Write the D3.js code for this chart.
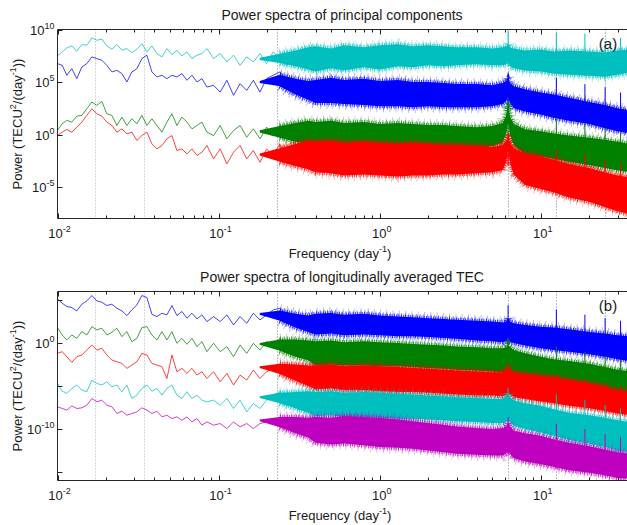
<!DOCTYPE html>
<html>
<head>
<meta charset="utf-8">
<style>
body { margin: 0; background: #fff; }
text { font-family: Arial, "Liberation Sans", sans-serif; fill: #1a1a1a; }
.frame { fill: none; stroke: #262626; stroke-width: 1; }
</style>
</head>
<body>
<svg width="627" height="525"></svg>

<script src="https://cdn.jsdelivr.net/npm/d3@7/dist/d3.min.js"></script>

<script>
// ---- data (power given as log10 exponents) ----

// low-frequency part: single visible traces
var traceFreq = [0.01000, 0.01069, 0.01143, 0.01227, 0.01318, 0.01416, 0.01521, 0.01634, 0.01755, 0.01885,
  0.02025, 0.02176, 0.02337, 0.02510, 0.02696, 0.02896, 0.03111, 0.03341, 0.03589, 0.03855,
  0.04141, 0.04448, 0.04778, 0.05133, 0.05513, 0.05922, 0.06361, 0.06833, 0.07340, 0.07884,
  0.08468, 0.09311, 0.1023, 0.1126, 0.1238, 0.1360, 0.1495, 0.1644, 0.1807, 0.1986,
  0.2183, 0.2400, 0.2638, 0.2900, 0.3188, 0.3504, 0.3852, 0.4234];

// high-frequency part: dense noise band, upper / lower envelope
var bandFreq = [0.18, 0.24, 0.3, 0.36, 0.4, 0.5, 0.6, 0.8, 1, 1.3, 1.6, 2, 2.5, 3, 4, 5,
  5.8, 6.1, 6.27, 6.45, 6.8, 8, 10, 12, 15, 20, 25, 30, 36];

// narrow harmonic lines
var spikeFreq = [6.27, 12.5, 18.8, 25.1, 31.3];

// dotted reference frequencies
var markFreq = [0.0171, 0.0342, 0.232, 6.27, 12.5, 25.1];

var xMajor = [0.01, 0.1, 1, 10];
var xMajorExp = ["-2", "-1", "0", "1"];
var xMinor = [0.02, 0.03, 0.04, 0.05, 0.06, 0.07, 0.08, 0.09, 0.2, 0.3, 0.4, 0.5, 0.6, 0.7, 0.8, 0.9,
  2, 3, 4, 5, 6, 7, 8, 9, 20, 30, 40, 50];

// panel (a): principal components
var aYTicks = [1e-5, 1e0, 1e5, 1e10];
var aYExp = ["-5", "0", "5", "10"];

var aCyanTrace = [7.48, 7.87, 8.25, 8.44, 7.93, 8.57, 8.50, 9.20, 8.98, 9.08, 8.44, 8.12, 8.57, 8.03, 8.18, 7.80,
  8.12, 8.66, 7.87, 8.44, 7.71, 7.39, 8.18, 7.61, 8.03, 7.48, 7.87, 7.23, 7.55, 7.71, 8.18,
  7.23, 7.71, 6.91, 7.55, 6.59, 7.39, 6.91, 7.71, 6.75, 7.87, 7.23, 6.59, 7.39, 6.75, 7.23, 6.43, 7.07];
var aBlueTrace = [6.75, 6.59, 5.64, 6.27, 5.32, 6.43, 6.75, 7.39, 7.23, 7.07, 6.59, 5.96, 6.11, 5.80, 5.00, 5.96,
  6.27, 7.23, 7.55, 5.96, 5.48, 5.64, 5.32, 5.64, 5.48, 5.80, 5.16, 5.64, 5.00, 5.32, 4.52,
  4.68, 4.04, 5.16, 3.73, 4.84, 4.20, 5.16, 4.04, 5.32, 5.64, 5.96, 5.16, 4.52, 4.84, 3.73, 4.04, 3.41];
var aGreenTrace = [0.38, 1.02, 1.34, 1.18, 1.75, 1.82, 2.45, 3.09, 2.77, 3.15, 1.97, 1.82, 0.86, 1.66, 0.86, 1.50,
  1.02, 1.82, 0.86, 1.50, 0.86, 0.22, 1.18, 1.97, 0.86, 1.66, 1.18, 0.54, 0.86, 1.18, 0.22,
  -0.10, 0.86, -0.41, 0.38, 0.86, -0.25, 0.54, -0.41, 0.70, -0.10, 0.86, -0.41, 0.54, -0.25, 0.70, -0.10, 0.38];
var aRedTrace = [-0.10, 0.22, 0.48, 0.22, 0.70, 1.18, 1.82, 2.45, 1.97, 1.75, 1.18, 0.86, 0.22, 0.54, 0.06, 0.22,
  -0.57, -0.10, 0.22, -0.89, -1.37, -1.05, -0.41, -0.10, -1.53, -1.37, -1.85, -1.37, -2.00, -1.69, -1.05,
  -2.32, -1.37, -2.80, -1.69, -1.05, -2.32, -1.53, -2.64, -1.37, -2.00, -0.89, -2.32, -1.69, -2.96, -1.53, -2.48, -1.85];

var aCyanHi = [7.3, 7.7, 8.0, 8.3, 8.4, 8.2, 8.5, 8.3, 8.5, 8.6, 8.4, 8.5, 8.4, 8.3, 8.3, 8.2,
  8.3, 8.4, 8.6, 8.3, 8.2, 8.0, 8.1, 7.9, 8.0, 7.9, 7.8, 8.0, 8.1];
var aCyanLo = [7.1, 6.8, 6.5, 6.2, 6.0, 6.3, 6.1, 6.4, 6.2, 6.5, 6.4, 6.6, 6.5, 6.6, 6.7, 6.6,
  6.6, 6.7, 7.0, 6.5, 6.3, 6.1, 6.0, 5.8, 5.7, 5.6, 5.5, 5.7, 5.9];
var aBlueHi = [5.1, 5.7, 5.3, 5.1, 5.2, 5.4, 5.2, 5.3, 5.1, 5.2, 5.0, 5.0, 4.9, 4.8, 4.8, 4.7,
  4.9, 5.1, 5.4, 4.9, 4.6, 4.3, 4.0, 3.8, 3.5, 3.1, 2.8, 2.5, 2.3];
var aBlueLo = [4.9, 4.6, 3.8, 3.3, 3.0, 3.0, 2.9, 2.8, 2.7, 2.7, 2.6, 2.7, 2.6, 2.6, 2.6, 2.7,
  2.9, 3.2, 3.6, 3.0, 2.5, 2.2, 1.9, 1.6, 1.3, 1.0, 0.6, 0.3, 0.1];
var aGreenHi = [0.4, 0.8, 1.1, 1.3, 1.2, 1.3, 1.1, 1.2, 1.0, 1.1, 1.0, 0.9, 0.9, 0.8, 0.7, 0.8,
  1.1, 1.8, 3.0, 1.7, 1.0, 0.5, 0.3, 0.1, -0.1, -0.3, -0.5, -0.7, -0.9];
var aGreenLo = [0.2, -0.3, -0.7, -0.9, -1.0, -1.0, -1.1, -1.1, -1.2, -1.2, -1.2, -1.2, -1.3, -1.3, -1.3, -1.1,
  -0.8, 0.1, 1.2, -0.1, -1.0, -1.9, -2.1, -2.3, -2.6, -2.9, -3.2, -3.4, -3.6];
var aRedHi = [-1.8, -1.3, -0.9, -0.6, -0.7, -0.6, -0.8, -0.7, -0.8, -0.9, -0.8, -0.9, -1.0, -1.0, -1.1, -1.2,
  -1.0, -0.6, -0.2, -0.7, -1.3, -1.8, -2.1, -2.4, -2.8, -3.2, -3.6, -3.9, -4.1];
var aRedLo = [-2.0, -2.6, -3.0, -3.3, -3.6, -3.7, -3.9, -3.8, -3.9, -4.0, -3.9, -3.9, -3.8, -3.8, -3.7, -3.6,
  -3.4, -2.6, -1.5, -2.7, -3.8, -4.8, -5.2, -5.5, -6.0, -6.4, -6.9, -7.3, -7.6];

var aCyanSpikeTop = [9.9, 9.7, 9.6, 8.9, 9.2], aCyanSpikeBase = [6.6, 5.8, 5.6, 5.5, 5.7];
var aBlueSpikeTop = [5.9, 5.4, 4.8, 4.5, 4.0], aBlueSpikeBase = [2.6, 1.7, 1.1, 0.7, 0.3];
var aGreenSpikeTop = [3.2, 1.5, 1.0, 0.6, 0.3], aGreenSpikeBase = [1.0, -2.4, -2.9, -3.3, -3.5];
var aRedSpikeTop = [-0.1, -1.4, -1.9, -2.4, -2.7], aRedSpikeBase = [-3.0, -5.6, -6.3, -6.9, -7.3];

// panel (b): longitudinally averaged TEC
var bYTicks = [1e-15, 1e-10, 1e-5, 1e0, 1e5];
var bYLabelTicks = [1e-10, 1e0];
var bYExp = ["-10", "0"];

var bBlueTrace = [5.14, 4.64, 4.25, 4.13, 3.74, 4.52, 4.91, 5.53, 4.91, 4.75, 4.37, 4.52, 4.05, 3.74, 3.20, 3.86,
  4.44, 5.53, 5.30, 3.35, 3.08, 3.47, 3.28, 4.37, 3.20, 3.67, 2.89, 3.47, 2.81, 3.28, 2.50,
  3.08, 2.50, 3.28, 2.11, 3.08, 2.30, 3.47, 2.69, 3.28, 3.86, 4.05, 3.28, 2.89, 1.72, 2.30, 1.53, 2.11];
var bGreenTrace = [1.80, 0.94, 0.36, 0.94, 0.55, 1.33, 0.94, 1.91, 1.53, 1.72, 0.94, 1.25, 1.72, 0.75, 1.33, 0.16,
  0.55, 1.80, 1.91, 0.94, 0.36, 1.33, 0.36, 1.33, -0.03, 0.55, -0.15, 0.55, -0.42, 0.16, -1.00,
  -0.03, -1.00, -0.42, -1.59, -0.23, -1.20, -0.03, -0.81, 0.16, -0.23, 0.55, -0.61, -0.03, -1.20, -0.61, -1.59, -0.81];
var bRedTrace = [-1.20, -1.00, -1.59, -2.25, -1.59, -1.39, -0.81, -0.23, -0.81, -0.61, -1.39, -1.98, -2.17, -2.37, -2.95, -2.56,
  -2.17, -1.20, -1.39, -2.37, -2.56, -2.75, -4.12, -1.39, -3.34, -2.95, -3.53, -2.95, -3.73, -3.34, -4.12,
  -3.34, -4.51, -3.53, -4.89, -3.73, -4.31, -3.14, -4.12, -3.34, -2.95, -2.56, -3.53, -4.12, -3.73, -4.89, -3.92, -4.51];
var bCyanTrace = [-4.70, -5.60, -5.87, -5.28, -4.89, -5.48, -5.67, -4.31, -4.70, -4.89, -4.51, -5.09, -4.89, -5.67, -4.89, -6.45,
  -6.06, -5.28, -4.89, -5.60, -5.28, -6.06, -5.28, -4.89, -6.06, -6.45, -5.67, -6.45, -6.06, -6.65, -6.84,
  -6.65, -7.23, -6.45, -7.62, -6.65, -8.01, -7.03, -7.62, -6.65, -6.06, -5.67, -6.65, -7.23, -7.81, -6.84, -8.20, -7.23];
var bMagentaTrace = [-7.42, -7.62, -7.81, -7.31, -7.62, -7.54, -7.23, -6.45, -6.84, -6.65, -7.23, -7.42, -8.20, -7.93, -8.40, -8.20,
  -8.01, -7.54, -7.81, -8.20, -7.93, -8.59, -8.40, -8.79, -8.59, -8.98, -8.59, -9.18, -8.79, -9.56, -9.18,
  -9.56, -9.37, -9.95, -9.18, -9.76, -9.37, -9.95, -9.37, -9.18, -8.79, -8.98, -9.56, -10.34, -9.95, -10.73, -10.15, -10.93];

var bBlueHi = [3.5, 3.8, 3.4, 3.2, 3.4, 3.5, 3.3, 3.4, 3.2, 3.1, 3.0, 2.9, 2.8, 2.7, 2.6, 2.5,
  2.4, 2.5, 2.9, 2.5, 2.3, 2.1, 1.9, 1.8, 1.6, 1.3, 1.1, 0.9, 0.8];
var bBlueLo = [3.3, 2.6, 1.8, 1.3, 1.0, 1.1, 0.9, 1.0, 0.9, 0.8, 0.8, 0.7, 0.6, 0.5, 0.3, 0.2,
  0.1, 0.2, 0.4, 0.1, 0.0, -0.3, -0.6, -0.8, -1.0, -1.3, -1.6, -1.9, -2.1];
var bGreenHi = [0.0, 0.4, 0.4, 0.3, 0.2, 0.3, 0.1, 0.2, 0.1, 0.0, -0.1, -0.2, -0.3, -0.4, -0.5, -0.6,
  -0.6, -0.5, -0.2, -0.5, -0.8, -1.2, -1.6, -1.9, -2.1, -2.4, -2.8, -3.1, -3.3];
var bGreenLo = [-0.2, -0.9, -1.6, -2.0, -2.6, -2.5, -2.6, -2.6, -2.7, -2.7, -2.8, -2.9, -3.0, -3.1, -3.2, -3.3,
  -3.4, -3.3, -3.0, -3.3, -3.6, -4.0, -4.3, -4.6, -4.9, -5.2, -5.5, -5.8, -5.9];
var bRedHi = [-2.7, -2.4, -2.5, -2.6, -2.6, -2.5, -2.7, -2.6, -2.7, -2.8, -2.9, -3.0, -3.1, -3.2, -3.3, -3.4,
  -3.4, -3.2, -2.8, -3.1, -3.5, -3.6, -3.8, -4.0, -4.3, -4.7, -5.1, -5.5, -5.7];
var bRedLo = [-2.9, -3.6, -4.4, -5.0, -5.4, -5.3, -5.5, -5.5, -5.6, -5.7, -5.7, -5.8, -5.9, -6.0, -6.1, -6.1,
  -6.2, -6.0, -5.8, -6.0, -6.3, -6.5, -6.8, -7.0, -7.3, -7.6, -7.9, -8.2, -8.4];
var bCyanHi = [-6.2, -5.8, -5.7, -5.6, -5.7, -5.6, -5.8, -5.7, -5.8, -5.9, -6.0, -6.1, -6.2, -6.3, -6.4, -6.5,
  -6.5, -6.3, -5.9, -6.3, -6.7, -7.0, -7.3, -7.7, -8.1, -8.4, -8.7, -9.0, -9.2];
var bCyanLo = [-6.4, -7.0, -7.6, -8.1, -8.5, -8.4, -8.6, -8.6, -8.7, -8.8, -8.8, -8.9, -9.0, -9.1, -9.2, -9.3,
  -9.3, -9.2, -9.0, -9.2, -9.6, -10.0, -10.4, -10.8, -11.3, -11.7, -12.1, -12.5, -12.7];
var bMagentaHi = [-8.9, -8.6, -8.6, -8.7, -8.6, -8.7, -8.5, -8.6, -8.7, -8.9, -9.1, -9.3, -9.5, -9.7, -9.9, -10.0,
  -9.9, -9.7, -9.3, -9.7, -10.2, -10.5, -10.8, -11.2, -11.6, -12.0, -12.4, -12.7, -12.9];
var bMagentaLo = [-9.1, -9.8, -10.5, -11.0, -11.6, -11.8, -11.7, -11.9, -12.1, -12.2, -12.3, -12.5, -12.7, -12.9, -13.0, -13.1,
  -13.1, -12.9, -12.6, -12.9, -13.4, -13.8, -14.1, -14.4, -14.8, -15.1, -15.4, -15.7, -15.8];

var bBlueSpikeTop = [4.4, 3.9, 3.3, 2.9, 2.6], bBlueSpikeBase = [0.2, -0.9, -1.4, -1.7, -2.0];
var bGreenSpikeTop = [0.6, -0.4, -1.0, -1.5, -2.0], bGreenSpikeBase = [-3.2, -4.8, -5.3, -5.7, -5.9];
var bRedSpikeTop = [-2.3, -3.6, -4.2, -4.6, -5.0], bRedSpikeBase = [-6.0, -7.2, -7.7, -8.1, -8.3];
var bCyanSpikeTop = [-5.2, -6.0, -6.6, -7.2, -7.6], bCyanSpikeBase = [-9.2, -11.0, -11.6, -12.1, -12.6];
var bMagentaSpikeTop = [-8.6, -9.4, -10.0, -10.6, -11.0], bMagentaSpikeBase = [-12.9, -14.6, -15.1, -15.5, -15.8];

// ---- chart ----
var svg = d3.select("svg");
var left = 57.5, right = 660;

var x = d3.scaleLog().domain([0.01, 55]).range([left, right]);

var panels = [
  {top: 29.5, bottom: 218.5, yDomain: [1e-8, 1e10], yTicks: aYTicks, yLabelTicks: aYTicks, yExp: aYExp,
   title: "Power spectra of principal components", tag: "(a)",
   series: [
     {color: "#00bfbf", trace: aCyanTrace, hi: aCyanHi, lo: aCyanLo, top: aCyanSpikeTop, base: aCyanSpikeBase},
     {color: "#0000ff", trace: aBlueTrace, hi: aBlueHi, lo: aBlueLo, top: aBlueSpikeTop, base: aBlueSpikeBase},
     {color: "#008000", trace: aGreenTrace, hi: aGreenHi, lo: aGreenLo, top: aGreenSpikeTop, base: aGreenSpikeBase},
     {color: "#ff0000", trace: aRedTrace, hi: aRedHi, lo: aRedLo, top: aRedSpikeTop, base: aRedSpikeBase}
   ]},
  {top: 291.5, bottom: 480.5, yDomain: [1e-16, 1e6], yTicks: bYTicks, yLabelTicks: bYLabelTicks, yExp: bYExp,
   title: "Power spectra of longitudinally averaged TEC", tag: "(b)",
   series: [
     {color: "#0000ff", trace: bBlueTrace, hi: bBlueHi, lo: bBlueLo, top: bBlueSpikeTop, base: bBlueSpikeBase},
     {color: "#008000", trace: bGreenTrace, hi: bGreenHi, lo: bGreenLo, top: bGreenSpikeTop, base: bGreenSpikeBase},
     {color: "#ff0000", trace: bRedTrace, hi: bRedHi, lo: bRedLo, top: bRedSpikeTop, base: bRedSpikeBase},
     {color: "#00bfbf", trace: bCyanTrace, hi: bCyanHi, lo: bCyanLo, top: bCyanSpikeTop, base: bCyanSpikeBase},
     {color: "#bf00bf", trace: bMagentaTrace, hi: bMagentaHi, lo: bMagentaLo, top: bMagentaSpikeTop, base: bMagentaSpikeBase}
   ]}
];

// fringe layers that make the band edges look like dense noise
var fringe = [
  {width: 12, dash: "1,5.3", opacity: 0.28},
  {width: 7, dash: "1,2.7", opacity: 0.5},
  {width: 4, dash: "1,1.3", opacity: 0.8}
];

function pow10(v) { return Math.pow(10, v); }

function sup(sel, base, exp) {
  sel.append("tspan").text(base);
  sel.append("tspan").attr("dy", -6).attr("font-size", 9).text(exp);
}

panels.forEach(function(p, pi) {
  var y = d3.scaleLog().domain(p.yDomain).range([p.bottom, p.top]);
  var g = svg.append("g");

  var clipId = "clip" + pi;
  svg.append("clipPath").attr("id", clipId)
    .append("rect").attr("x", left).attr("y", p.top).attr("width", right - left).attr("height", p.bottom - p.top);

  var plot = g.append("g").attr("clip-path", "url(#" + clipId + ")");

  // dotted reference lines
  plot.selectAll(".mark").data(markFreq).enter().append("line")
    .attr("x1", function(d) { return Math.round(x(d)) + 0.5; })
    .attr("x2", function(d) { return Math.round(x(d)) + 0.5; })
    .attr("y1", p.top).attr("y2", p.bottom)
    .attr("stroke", function(d, i) { return i < 2 ? "#b0b0b0" : "#808080"; })
    .attr("stroke-width", 1).attr("stroke-dasharray", "1,2");

  var area = d3.area()
    .x(function(d) { return x(d.f); })
    .y0(function(d) { return y(pow10(d.lo)); })
    .y1(function(d) { return y(pow10(d.hi)); });
  var hiLine = d3.line()
    .x(function(d) { return x(d.f); })
    .y(function(d) { return y(pow10(d.hi)); });
  var loLine = d3.line()
    .x(function(d) { return x(d.f); })
    .y(function(d) { return y(pow10(d.lo)); });

  var line = d3.line()
    .x(function(d) { return x(d.f); })
    .y(function(d) { return y(pow10(d.v)); });

  p.series.forEach(function(s) {
    var band = bandFreq.map(function(f, i) { return {f: f, hi: s.hi[i], lo: s.lo[i]}; });
    plot.append("path").datum(band)
      .attr("d", area)
      .attr("fill", s.color);
    fringe.forEach(function(fr) {
      [hiLine, loLine].forEach(function(edge) {
        plot.append("path").datum(band.slice(1))
          .attr("d", edge).attr("fill", "none")
          .attr("stroke", s.color).attr("stroke-width", fr.width)
          .attr("stroke-dasharray", fr.dash).attr("stroke-opacity", fr.opacity);
      });
    });

    plot.selectAll(null).data(spikeFreq).enter().append("line")
      .attr("x1", function(d) { return x(d); })
      .attr("x2", function(d) { return x(d); })
      .attr("y1", function(d, i) { return y(pow10(s.base[i])); })
      .attr("y2", function(d, i) { return y(pow10(s.top[i])); })
      .attr("stroke", s.color).attr("stroke-width", 1);

    var tr = traceFreq.map(function(f, i) { return {f: f, v: s.trace[i]}; });
    plot.append("path").datum(tr)
      .attr("d", line)
      .attr("fill", "none")
      .attr("stroke", s.color).attr("stroke-opacity", 0.75).attr("stroke-width", 1);
  });

  // frame (right side lies beyond the page edge)
  g.append("path").attr("class", "frame")
    .attr("d", "M" + right + "," + p.top + "H" + left + "V" + p.bottom + "H" + right);

  // x ticks, inward, bottom and top
  var ticks = g.append("g").attr("stroke", "#262626").attr("stroke-width", 1);
  function xTick(values, len) {
    values.forEach(function(v) {
      var xx = Math.round(x(v)) + 0.5;
      ticks.append("line").attr("x1", xx).attr("x2", xx).attr("y1", p.bottom).attr("y2", p.bottom - len);
      ticks.append("line").attr("x1", xx).attr("x2", xx).attr("y1", p.top).attr("y2", p.top + len);
    });
  }
  xTick(xMajor, 5);
  xTick(xMinor, 3);

  p.yTicks.forEach(function(v) {
    var yy = Math.round(y(v)) + 0.5;
    ticks.append("line").attr("x1", left).attr("x2", left + 5).attr("y1", yy).attr("y2", yy);
  });

  // x tick labels
  xMajor.forEach(function(v, i) {
    var t = g.append("text").attr("x", x(v) + 2).attr("y", p.bottom + 19)
      .attr("text-anchor", "middle").attr("font-size", 13);
    sup(t, "10", xMajorExp[i]);
  });

  // y tick labels
  p.yLabelTicks.forEach(function(v, i) {
    var t = g.append("text").attr("x", left - 3).attr("y", y(v) + 5)
      .attr("text-anchor", "end").attr("font-size", 13);
    sup(t, "10", p.yExp[i]);
  });

  // titles and labels
  g.append("text").attr("x", 342).attr("y", p.top - 10)
    .attr("text-anchor", "middle").attr("font-size", 14).text(p.title);

  var xl = g.append("text").attr("x", 340).attr("y", p.bottom + 39)
    .attr("text-anchor", "middle").attr("font-size", 13);
  sup(xl, "Frequency (day", "-1");
  xl.append("tspan").attr("dy", 6).text(")");

  var yl = g.append("text")
    .attr("transform", "translate(22," + ((p.top + p.bottom) / 2) + ") rotate(-90)")
    .attr("text-anchor", "middle").attr("font-size", 13);
  sup(yl, "Power (TECU", "2");
  yl.append("tspan").attr("dy", 6).text("/(day");
  yl.append("tspan").attr("dy", -6).attr("font-size", 9).text("-1");
  yl.append("tspan").attr("dy", 6).text("))");

  g.append("text").attr("x", 608).attr("y", p.top + 19)
    .attr("text-anchor", "middle").attr("font-size", 15).text(p.tag);
});
</script>
</body>
</html>
